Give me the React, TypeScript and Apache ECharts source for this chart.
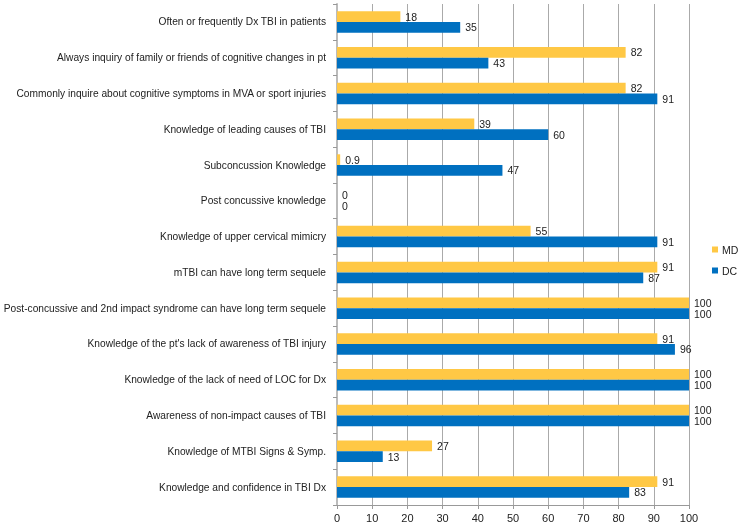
import React, { useEffect, useRef } from "react";
import * as echarts from "echarts";

const categories = [
  "Often or frequently Dx TBI in patients",
  "Always inquiry of family or friends of cognitive changes in pt",
  "Commonly inquire about cognitive symptoms in MVA or sport injuries",
  "Knowledge of leading causes of TBI",
  "Subconcussion Knowledge",
  "Post concussive knowledge",
  "Knowledge of upper cervical mimicry",
  "mTBI can have long term sequele",
  "Post-concussive and 2nd impact syndrome can have long term sequele",
  "Knowledge of the pt's lack of awareness of TBI injury",
  "Knowledge of the lack of need of LOC for Dx",
  "Awareness of non-impact causes of TBI",
  "Knowledge of MTBI Signs & Symp.",
  "Knowledge and confidence in TBI Dx",
];
const mdValues = [18, 82, 82, 39, 0.9, 0, 55, 91, 100, 91, 100, 100, 27, 91];
const dcValues = [35, 43, 91, 60, 47, 0, 91, 87, 100, 96, 100, 100, 13, 83];
const xTicks = { min: 0, max: 100, interval: 10 };

export default function App() {
  const ref = useRef<HTMLDivElement>(null);
  useEffect(() => {
    if (!ref.current) return;
    const chart = echarts.init(ref.current, null, { renderer: "svg" });
    const font = "Liberation Sans, Arial, Helvetica, sans-serif";
    const label = {
      show: true,
      position: "right",
      color: "#222",
      fontSize: 10.5,
      fontFamily: font,
      distance: 5,
    };
    chart.setOption({
      animation: false,
      textStyle: { fontFamily: font },
      grid: {
        left: 337,
        right: 55,
        top: 4,
        bottom: 20,
        containLabel: false,
        outerBoundsMode: "none",
      },
      legend: {
        data: ["MD", "DC"],
        orient: "vertical",
        left: 712,
        top: 244,
        itemWidth: 6,
        itemHeight: 6,
        itemGap: 10,
        icon: "rect",
        padding: 0,
        textStyle: { fontSize: 10.5, color: "#222", fontFamily: font, padding: [0, 0, 0, -1] },
      },
      xAxis: {
        type: "value",
        min: xTicks.min,
        max: xTicks.max,
        interval: xTicks.interval,
        axisLine: { show: true, lineStyle: { color: "#999" } },
        axisTick: { show: true, length: 4, lineStyle: { color: "#999" } },
        splitLine: { show: true, lineStyle: { color: "#aaa", width: 1 } },
        axisLabel: { color: "#222", fontSize: 11, fontFamily: font, margin: 7 },
      },
      yAxis: {
        type: "category",
        data: categories,
        inverse: true,
        axisLine: { show: true, lineStyle: { color: "#bbb", width: 2 } },
        axisTick: { show: true, length: 4, lineStyle: { color: "#999" } },
        axisLabel: { color: "#222", fontSize: 10.2, fontFamily: font, margin: 11 },
      },
      series: [
        {
          name: "MD",
          type: "bar",
          data: mdValues,
          barGap: "0%",
          barCategoryGap: "40%",
          itemStyle: { color: "#FFC845" },
          label,
        },
        {
          name: "DC",
          type: "bar",
          data: dcValues,
          barGap: "0%",
          barCategoryGap: "40%",
          itemStyle: { color: "#0070C0" },
          label,
        },
      ],
    });
    return () => chart.dispose();
  }, []);
  return (
    <div
      ref={ref}
      style={{ position: "fixed", left: 0, top: 0, width: 744, height: 525 }}
    />
  );
}
